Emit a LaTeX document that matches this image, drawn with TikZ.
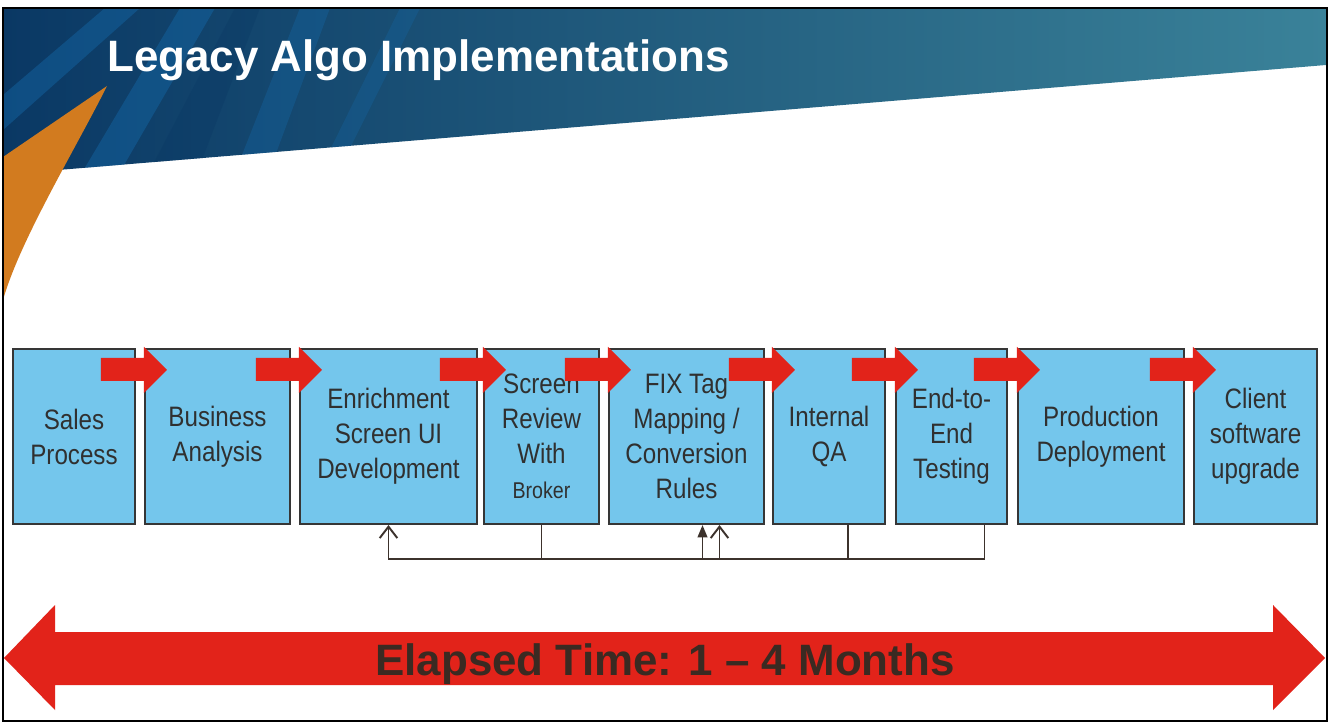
\documentclass[tikz,border=0pt]{standalone}
\usepackage{fontspec}
\setmainfont{Liberation Sans}
\newfontfamily\boxfont[FakeStretch=0.86]{Liberation Sans}
\usetikzlibrary{arrows.meta}

\definecolor{headnavy}{HTML}{0A3864}
\definecolor{headmid}{HTML}{154F7E}
\definecolor{headteal}{HTML}{3A8299}
\definecolor{stripeblue}{HTML}{1468A8}
\definecolor{swoosh}{HTML}{D27B1F}
\definecolor{stepblue}{HTML}{74C6EC}
\definecolor{stepline}{HTML}{363636}
\definecolor{steptext}{HTML}{303030}
\definecolor{flowred}{HTML}{E2231A}
\definecolor{loopline}{HTML}{3C322C}
\definecolor{timetext}{HTML}{3A2A22}

\tikzset{
  stepbox/.style={draw=stepline, line width=1.2pt, fill=stepblue, text=steptext,
    align=center, inner sep=0pt, minimum height=175*0.02cm,
    font=\boxfont\fontsize{16}{19.9}\selectfont},
  backline/.style={draw=loopline, line width=1.1pt},
  openhead/.style={-{Straight Barb[length=6.5pt,width=10pt]}},
  fullhead/.style={-{Triangle[length=7pt,width=5.5pt]}},
  bigfont/.style={font=\bfseries\fontsize{25}{30}\selectfont}
}

\begin{document}
\begin{tikzpicture}[x=0.02cm, y=-0.02cm]
  \useasboundingbox (0,0) rectangle (1331,722);
  \fill[white] (0,0) rectangle (1331,722);

  \shade[left color=headnavy, middle color=headmid, right color=headteal]
    (3,8) -- (1326,8) -- (1326,65) -- (58,170) -- (3,176) -- cycle;
  \begin{scope}
    \clip (3,8) -- (1326,8) -- (1326,65) -- (58,170) -- (3,176) -- cycle;
    \fill[stripeblue, opacity=.45] (3,95) -- (3,130) -- (140,8) -- (105,8) -- cycle;
    \fill[stripeblue, opacity=.45] (80,176) -- (120,172) -- (215,8) -- (180,8) -- cycle;
    \fill[stripeblue, opacity=.35] (240,160) -- (275,156) -- (330,8) -- (300,8) -- cycle;
    \fill[stripeblue, opacity=.3] (330,150) -- (350,148) -- (420,8) -- (400,8) -- cycle;
    \fill[headnavy, opacity=.35] (150,170) -- (200,165) -- (260,8) -- (235,8) -- cycle;
  \end{scope}
  \fill[swoosh] (107,86) -- (3,157) -- (3,300) .. controls (20,240) and (75,150) .. (107,86);

  \node[anchor=base west, inner sep=0pt, text=white, bigfont] (title) at (107,72) {Legacy Algo Implementations};

  \node[stepbox, minimum width=122*0.02cm] (b1) at (74,436.5) {Sales\\Process};
  \node[stepbox, minimum width=145*0.02cm] (b2) at (217.5,436.5) {Business\\Analysis};
  \node[stepbox, minimum width=177*0.02cm] (b3) at (388.5,436.5) {Enrichment\\Screen UI\\Development};
  \node[stepbox, minimum width=115*0.02cm] (b4) at (541.5,436.5) {Screen\\Review\\With\\{\fontsize{13}{19.9}\selectfont Broker}};
  \node[stepbox, minimum width=155*0.02cm] (b5) at (686.5,436.5) {FIX Tag\\Mapping /\\Conversion\\Rules};
  \node[stepbox, minimum width=112*0.02cm] (b6) at (829,436.5) {Internal\\QA};
  \node[stepbox, minimum width=111*0.02cm] (b7) at (951.5,436.5) {End-to-\\End\\Testing};
  \node[stepbox, minimum width=166*0.02cm] (b8) at (1101,436.5) {Production\\Deployment};
  \node[stepbox, minimum width=123*0.02cm] (b9) at (1255.5,436.5) {Client\\software\\upgrade};

  \foreach \b in {b2,b3,b4,b5,b6,b7,b8,b9}
    \fill[flowred] ([shift={(-43,10)}]\b.north west) -- ([shift={(0,10)}]\b.north west)
      -- ([shift={(0,-1)}]\b.north west) -- ([shift={(23,22)}]\b.north west)
      -- ([shift={(0,45)}]\b.north west) -- ([shift={(0,33)}]\b.north west)
      -- ([shift={(-43,33)}]\b.north west) -- cycle;

  \coordinate (base) at (0,559);
  \coordinate (s6) at ([shift={(19,0)}]b6.south);
  \coordinate (s7) at ([shift={(33,0)}]b7.south);
  \coordinate (t5a) at ([shift={(16,0)}]b5.south);
  \coordinate (t5b) at ([shift={(33,0)}]b5.south);
  \draw[backline, openhead] (s7) -- (s7 |- base) -| (b3.south);
  \draw[backline, fullhead] (b4.south) -- (b4.south |- base) -| (t5a);
  \draw[backline, openhead] (s6) -- (s6 |- base) -| (t5b);

  \fill[flowred] (4,658) -- (55,605) -- (55,632) -- (1273,632) -- (1273,605) -- (1325,658)
    -- (1273,710) -- (1273,685) -- (55,685) -- (55,710) -- cycle;
  \node[anchor=base, inner sep=0pt, text=timetext, bigfont] (elapsed) at (665,675) {Elapsed Time: 1 – 4 Months};

  \draw[black, line width=0.8pt] (3,8) rectangle (1327,721);
\end{tikzpicture}
\end{document}
